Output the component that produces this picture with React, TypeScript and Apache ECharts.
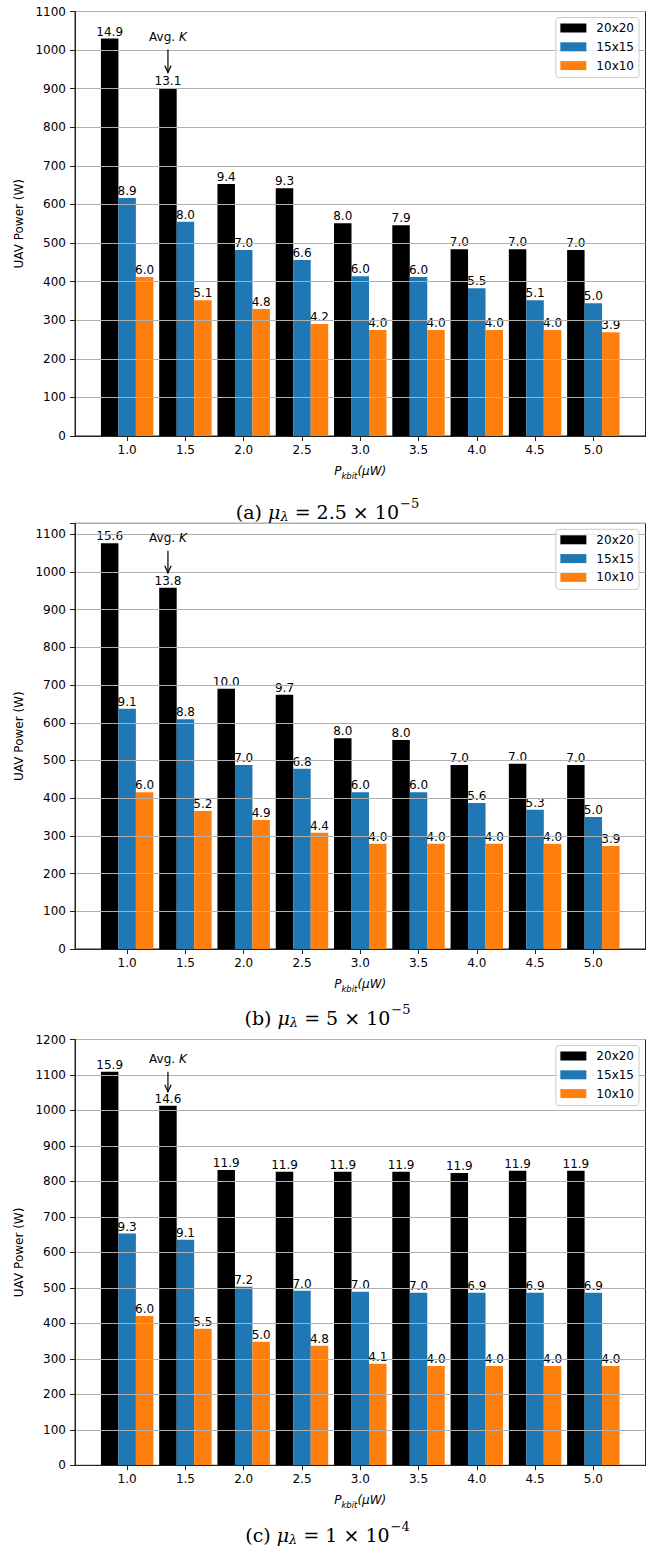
import React, { useEffect, useRef } from 'react';
import * as echarts from 'echarts';

// ---------- data ----------
const CATEGORIES = ['1.0', '1.5', '2.0', '2.5', '3.0', '3.5', '4.0', '4.5', '5.0'];
const SERIES_NAMES = ['20x20', '15x15', '10x10'];
const COLORS = ['#000000', '#1f77b4', '#ff7f0e'];

// panel (a) mu = 2.5e-5
const POWER_A_20 = [1030, 902, 653, 642, 551, 546, 484, 484, 482];
const POWER_A_15 = [617, 555, 482, 456, 414, 412, 383, 352, 344];
const POWER_A_10 = [412, 352, 329, 290, 275, 275, 275, 275, 269];
const K_A_20 = [14.9, 13.1, 9.4, 9.3, 8.0, 7.9, 7.0, 7.0, 7.0];
const K_A_15 = [8.9, 8.0, 7.0, 6.6, 6.0, 6.0, 5.5, 5.1, 5.0];
const K_A_10 = [6.0, 5.1, 4.8, 4.2, 4.0, 4.0, 4.0, 4.0, 3.9];

// panel (b) mu = 5e-5
const POWER_B_20 = [1076, 958, 690, 674, 559, 554, 488, 491, 488];
const POWER_B_15 = [637, 609, 488, 478, 416, 416, 387, 369, 350];
const POWER_B_10 = [416, 366, 342, 308, 279, 279, 279, 279, 273];
const K_B_20 = [15.6, 13.8, 10.0, 9.7, 8.0, 8.0, 7.0, 7.0, 7.0];
const K_B_15 = [9.1, 8.8, 7.0, 6.8, 6.0, 6.0, 5.6, 5.3, 5.0];
const K_B_10 = [6.0, 5.2, 4.9, 4.4, 4.0, 4.0, 4.0, 4.0, 3.9];

// panel (c) mu = 1e-4
const POWER_C_20 = [1109, 1013, 832, 827, 827, 827, 824, 830, 830];
const POWER_C_15 = [653, 636, 503, 492, 489, 486, 486, 486, 486];
const POWER_C_10 = [421, 385, 348, 337, 286, 280, 280, 280, 280];
const K_C_20 = [15.9, 14.6, 11.9, 11.9, 11.9, 11.9, 11.9, 11.9, 11.9];
const K_C_15 = [9.3, 9.1, 7.2, 7.0, 7.0, 7.0, 6.9, 6.9, 6.9];
const K_C_10 = [6.0, 5.5, 5.0, 4.8, 4.1, 4.0, 4.0, 4.0, 4.0];

const Y_MAX = [1100, 1129, 1200];
const Y_STEP = 100;
const CAPTION_LETTERS = ['(a)', '(b)', '(c)'];
const CAPTION_VALUES = ['2.5 × 10', '5 × 10', '1 × 10'];
const CAPTION_EXPONENTS = ['−5', '−5', '−4'];
const ANNOT_INDEX = 1; // "Avg. K" points at the 20x20 bar of category 1.5

const POWERS = [
  [POWER_A_20, POWER_A_15, POWER_A_10],
  [POWER_B_20, POWER_B_15, POWER_B_10],
  [POWER_C_20, POWER_C_15, POWER_C_10],
];
const KS = [
  [K_A_20, K_A_15, K_A_10],
  [K_B_20, K_B_15, K_B_10],
  [K_C_20, K_C_15, K_C_10],
];

// ---------- layout ----------
const W = 655;
const H = 1550;
const GRID_LEFT = 75;
const GRID_WIDTH = 570.5;
const GRID_TOPS = [11.5, 523.3, 1039.5];
const GRID_HEIGHTS = [424.5, 425.7, 425.8];
const CAPTION_Y = [510, 1016, 1533];
const X_MIN = -0.895;
const X_MAX = 8.895;
const BAR_UNITS = 0.3;
const FONT = 'DejaVu Sans';
const SERIF = 'DejaVu Serif';

export default function App() {
  const ref = useRef<HTMLDivElement>(null);

  useEffect(() => {
    if (!ref.current) return;
    const chart = echarts.init(ref.current, undefined, { renderer: 'svg' });
    const idx = CATEGORIES.map((_, i) => i);
    const barPx = (BAR_UNITS * GRID_WIDTH) / (X_MAX - X_MIN);

    const grids = GRID_TOPS.map((top, p) => ({
      left: GRID_LEFT,
      width: GRID_WIDTH,
      top,
      height: GRID_HEIGHTS[p],
      show: true,
      borderColor: '#222',
      borderWidth: 1,
      backgroundColor: 'transparent',
    }));

    const xAxes = GRID_TOPS.map((_, p) => ({
      type: 'value',
      gridIndex: p,
      min: X_MIN,
      max: X_MAX,
      z: 3,
      axisLine: { show: true, onZero: false, lineStyle: { color: '#222', width: 1 } },
      axisTick: { show: true, customValues: idx, length: 5, lineStyle: { color: '#222' } },
      axisLabel: {
        customValues: idx,
        formatter: (v: number) => CATEGORIES[Math.round(v)] ?? '',
        fontSize: 12,
        color: '#000',
        fontFamily: FONT,
        margin: 8,
      },
      splitLine: { show: false },
      name: '{p|P}{s|kbit}{p|(μW)}',
      nameLocation: 'middle',
      nameGap: 29,
      nameTextStyle: {
        rich: {
          p: { fontStyle: 'italic', fontSize: 12, fontFamily: FONT, color: '#000', verticalAlign: 'top' },
          s: { fontStyle: 'italic', fontSize: 8.5, fontFamily: FONT, color: '#000', verticalAlign: 'top', padding: [6, 0, 0, 0] },
        },
      },
    }));

    const yAxes = GRID_TOPS.map((_, p) => ({
      type: 'value',
      gridIndex: p,
      min: 0,
      max: Y_MAX[p],
      interval: Y_STEP,
      z: 3,
      axisLine: { show: true, onZero: false, lineStyle: { color: '#222', width: 1 } },
      axisTick: { show: true, length: 5, lineStyle: { color: '#222' } },
      axisLabel: {
        fontSize: 12,
        color: '#000',
        fontFamily: FONT,
        margin: 9,
        formatter: (v: number) => (v % Y_STEP === 0 ? String(v) : ''),
      },
      splitLine: { show: true, lineStyle: { color: '#b0b0b0', width: 1 } },
      name: 'UAV Power (W)',
      nameLocation: 'middle',
      nameGap: 42,
      nameTextStyle: { fontSize: 12, color: '#000', fontFamily: FONT },
    }));

    const series: any[] = [];
    POWERS.forEach((panel, p) => {
      panel.forEach((vals, s) => {
        series.push({
          type: 'bar',
          name: SERIES_NAMES[s],
          xAxisIndex: p,
          yAxisIndex: p,
          data: vals.map((v, i) => [i, v]),
          barWidth: barPx,
          barGap: '0%',
          itemStyle: { color: COLORS[s] },
          z: 2,
          label: {
            show: true,
            position: 'top',
            distance: 1,
            fontSize: 12,
            color: '#000',
            fontFamily: FONT,
            formatter: (prm: any) => KS[p][s][prm.dataIndex].toFixed(1),
          },
        });
      });
    });

    const legends = GRID_TOPS.map((top) => ({
      data: SERIES_NAMES,
      orient: 'vertical',
      right: W - (GRID_LEFT + GRID_WIDTH) + 6.5,
      top: top + 6,
      icon: 'rect',
      itemWidth: 26,
      itemHeight: 9,
      itemGap: 4.8,
      selectedMode: false,
      padding: [3.5, 5, 5, 4.5],
      borderColor: '#cccccc',
      borderWidth: 1,
      borderRadius: 3,
      backgroundColor: 'rgba(255,255,255,0.8)',
      textStyle: { fontSize: 12, color: '#000', fontFamily: FONT, lineHeight: 14, padding: [0, 0, 0, 5] },
    }));

    const captionGraphics = CAPTION_Y.map((y, p) => ({
      type: 'text',
      x: W / 2,
      y,
      style: {
        text: `{t|${CAPTION_LETTERS[p]} }{i|μ}{sub|λ}{t| = ${CAPTION_VALUES[p]}}{sup|${CAPTION_EXPONENTS[p]}}`,
        align: 'center',
        verticalAlign: 'middle',
        rich: {
          t: { fontSize: 19, fontFamily: SERIF, fill: '#000', verticalAlign: 'top', padding: [5, 0, 0, 0] },
          i: { fontSize: 19, fontFamily: SERIF, fontStyle: 'italic', fill: '#000', verticalAlign: 'top', padding: [5, 0, 0, 0] },
          sub: { fontSize: 13, fontFamily: SERIF, fontStyle: 'italic', fill: '#000', verticalAlign: 'top', padding: [13, 0, 0, 0] },
          sup: { fontSize: 13, fontFamily: SERIF, fill: '#000', verticalAlign: 'top', padding: [0, 0, 0, 1] },
        },
      },
    }));

    chart.setOption({
      animation: false,
      backgroundColor: '#ffffff',
      grid: grids,
      xAxis: xAxes,
      yAxis: yAxes,
      legend: legends,
      series,
      graphic: captionGraphics,
    });

    // "Avg. K" annotations, anchored to the 20x20 bar of category 1.5
    const annot: any[] = [];
    POWERS.forEach((panel, p) => {
      const v = panel[0][ANNOT_INDEX];
      const xData = ANNOT_INDEX - BAR_UNITS;
      const tip = chart.convertToPixel({ xAxisIndex: p, yAxisIndex: p } as any, [xData, v + 40]) as number[];
      const txt = chart.convertToPixel({ xAxisIndex: p, yAxisIndex: p } as any, [xData, v + 133]) as number[];
      if (!tip || !txt) return;
      const x = tip[0];
      annot.push({
        type: 'text',
        x,
        y: txt[1],
        z: 10,
        style: {
          text: '{n|Avg. }{k|K}',
          align: 'center',
          verticalAlign: 'middle',
          rich: {
            n: { fontSize: 12, fontFamily: FONT, fill: '#000' },
            k: { fontSize: 12, fontFamily: FONT, fontStyle: 'italic', fill: '#000' },
          },
        },
      });
      annot.push({
        type: 'line',
        z: 10,
        shape: { x1: x, y1: txt[1] + 13, x2: x, y2: tip[1] },
        style: { stroke: '#000', lineWidth: 1.2 },
      });
      annot.push({
        type: 'polyline',
        z: 10,
        shape: { points: [[x - 3.2, tip[1] - 7], [x, tip[1]], [x + 3.2, tip[1] - 7]] },
        style: { stroke: '#000', lineWidth: 1.2, fill: 'none' },
      });
    });
    chart.setOption({ graphic: [...captionGraphics, ...annot] });

    return () => chart.dispose();
  }, []);

  return (
    <div
      ref={ref}
      style={{ position: 'absolute', left: 0, top: 0, width: W, height: H, background: '#fff' }}
    />
  );
}
